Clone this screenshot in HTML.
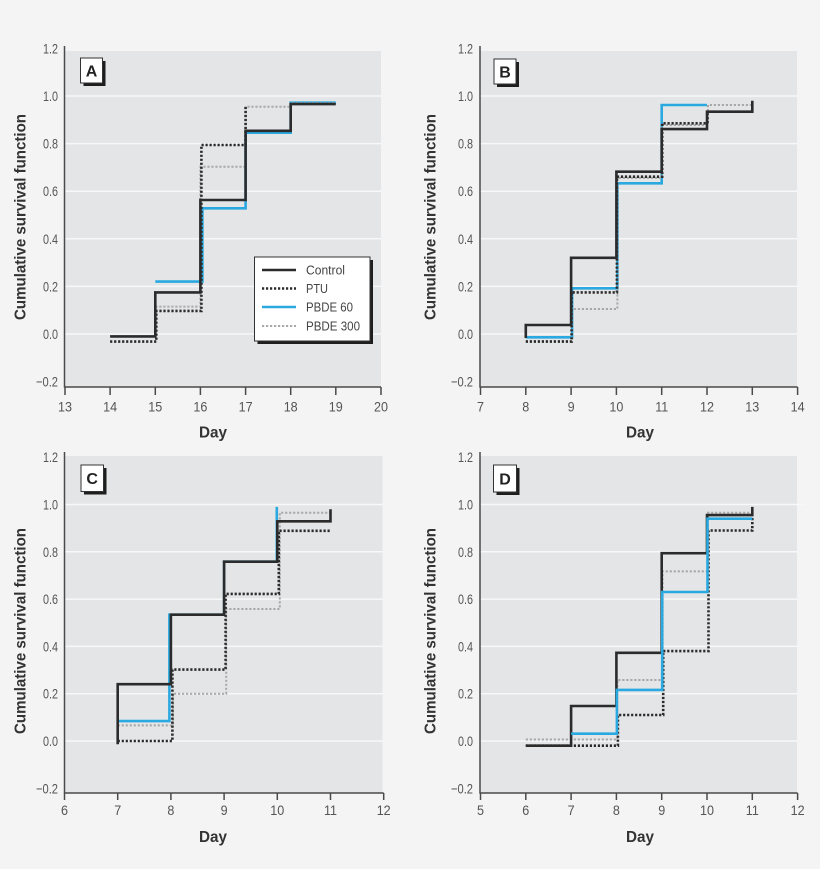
<!DOCTYPE html>
<html><head><meta charset="utf-8"><style>
html,body{margin:0;padding:0;background:#f4f4f4;}
svg{display:block;}
text{font-family:"Liberation Sans Narrow","Liberation Sans",sans-serif;}
.tk{font-size:14px;fill:#555;}
.tt{font-size:16px;font-weight:bold;fill:#333;}
.lg{font-size:13px;fill:#444;}
.lt{font-size:16px;font-weight:bold;fill:#222;}
.ctl{fill:none;stroke:#2b2b2b;stroke-width:2.6;}
.ptu{fill:none;stroke:#2b2b2b;stroke-width:2.6;stroke-dasharray:2.2 1.8;}
.blu{fill:none;stroke:#2aa9e0;stroke-width:2.6;}
.gry{fill:none;stroke:#a9a9a9;stroke-width:2;stroke-dasharray:2.2 1.8;}
.grid{stroke:#f8f8f8;stroke-width:1.5;}
.ax{stroke:#4a4a4a;stroke-width:1.5;fill:none;}
</style></head><body>
<svg width="820" height="869" viewBox="0 0 820 869" xmlns="http://www.w3.org/2000/svg">
<rect x="0" y="0" width="820" height="869" fill="#f4f4f4"/>

<!-- ===== Panel A ===== -->
<rect x="64.5" y="51" width="316.5" height="336" fill="#e3e5e7"/>
<g class="grid">
<line x1="64.5" x2="381" y1="96" y2="96"/><line x1="64.5" x2="381" y1="143.6" y2="143.6"/>
<line x1="64.5" x2="381" y1="191.2" y2="191.2"/><line x1="64.5" x2="381" y1="238.8" y2="238.8"/>
<line x1="64.5" x2="381" y1="286.4" y2="286.4"/><line x1="64.5" x2="381" y1="334" y2="334"/>
</g>
<path class="ax" d="M64.5,46 V387 H381"/>
<path class="ax" d="M65,387v8 M110.1,387v8 M155.3,387v8 M200.4,387v8 M245.6,387v8 M290.7,387v8 M335.8,387v8 M381,387v8"/>
<g class="tk" text-anchor="end">
<text x="58" y="53.4" textLength="15" lengthAdjust="spacingAndGlyphs">1.2</text>
<text x="58" y="101" textLength="15" lengthAdjust="spacingAndGlyphs">1.0</text>
<text x="58" y="148.6" textLength="15" lengthAdjust="spacingAndGlyphs">0.8</text>
<text x="58" y="196.2" textLength="15" lengthAdjust="spacingAndGlyphs">0.6</text>
<text x="58" y="243.8" textLength="15" lengthAdjust="spacingAndGlyphs">0.4</text>
<text x="58" y="291.4" textLength="15" lengthAdjust="spacingAndGlyphs">0.2</text>
<text x="58" y="339" textLength="15" lengthAdjust="spacingAndGlyphs">0.0</text>
<text x="58" y="386.6" textLength="22" lengthAdjust="spacingAndGlyphs">−0.2</text>
</g>
<g class="tk" text-anchor="middle">
<text x="65" y="411.7" textLength="14" lengthAdjust="spacingAndGlyphs">13</text>
<text x="110.1" y="411.7" textLength="14" lengthAdjust="spacingAndGlyphs">14</text>
<text x="155.3" y="411.7" textLength="14" lengthAdjust="spacingAndGlyphs">15</text>
<text x="200.4" y="411.7" textLength="14" lengthAdjust="spacingAndGlyphs">16</text>
<text x="245.6" y="411.7" textLength="14" lengthAdjust="spacingAndGlyphs">17</text>
<text x="290.7" y="411.7" textLength="14" lengthAdjust="spacingAndGlyphs">18</text>
<text x="335.8" y="411.7" textLength="14" lengthAdjust="spacingAndGlyphs">19</text>
<text x="381" y="411.7" textLength="14" lengthAdjust="spacingAndGlyphs">20</text>
</g>
<text class="tt" x="213" y="437.5" text-anchor="middle" textLength="28" lengthAdjust="spacingAndGlyphs">Day</text>
<text class="tt" transform="translate(25.5,217) rotate(-90)" text-anchor="middle" textLength="206" lengthAdjust="spacingAndGlyphs">Cumulative survival function</text>
<rect x="83.5" y="61" width="22" height="25" fill="#1e1e1e"/>
<rect x="80.5" y="58" width="22" height="25" fill="#fff" stroke="#333" stroke-width="1"/>
<text class="lt" x="91.5" y="76.5" text-anchor="middle">A</text>

<path class="blu" d="M155.3,281.6 H202.4 V208.3 H245.6 V132.7 H290.7 V102.7 H335.8"/>
<path class="gry" d="M155.3,306.6 H200.4 V166.7 H245.6 V106.7 H290.7 V103.1 H335.8"/>
<path class="ptu" d="M110.1,341.6 H156.3 V310.9 H201.4 V145 H245.6 V106"/>
<path class="ctl" d="M110.1,336.4 H155.3 V292.4 H200.4 V200 H245.6 V130.8 H290.7 V104.1 H335.8"/>

<!-- legend -->
<rect x="257.5" y="260" width="115.5" height="84" fill="#1e1e1e"/>
<rect x="254.5" y="257" width="115.5" height="84" fill="#fff" stroke="#333" stroke-width="1"/>
<line class="ctl" x1="262" x2="296" y1="270" y2="270"/>
<line class="ptu" x1="262" x2="296" y1="288.5" y2="288.5"/>
<line class="blu" x1="262" x2="296" y1="307" y2="307"/>
<line class="gry" x1="262" x2="296" y1="326" y2="326"/>
<text class="lg" x="306" y="274.5" textLength="39" lengthAdjust="spacingAndGlyphs">Control</text>
<text class="lg" x="306" y="293" textLength="22" lengthAdjust="spacingAndGlyphs">PTU</text>
<text class="lg" x="306" y="311.5" textLength="47" lengthAdjust="spacingAndGlyphs">PBDE 60</text>
<text class="lg" x="306" y="330.5" textLength="54" lengthAdjust="spacingAndGlyphs">PBDE 300</text>

<!-- ===== Panel B ===== -->
<rect x="480" y="51" width="317" height="336" fill="#e3e5e7"/>
<g class="grid">
<line x1="480" x2="797" y1="96" y2="96"/><line x1="480" x2="797" y1="143.6" y2="143.6"/>
<line x1="480" x2="797" y1="191.2" y2="191.2"/><line x1="480" x2="797" y1="238.8" y2="238.8"/>
<line x1="480" x2="797" y1="286.4" y2="286.4"/><line x1="480" x2="797" y1="334" y2="334"/>
</g>
<path class="ax" d="M480,46 V387 H797.6"/>
<path class="ax" d="M480.5,387v8 M525.8,387v8 M571.1,387v8 M616.4,387v8 M661.7,387v8 M707,387v8 M752.3,387v8 M797.6,387v8"/>
<g class="tk" text-anchor="end">
<text x="473" y="53.4" textLength="15" lengthAdjust="spacingAndGlyphs">1.2</text>
<text x="473" y="101" textLength="15" lengthAdjust="spacingAndGlyphs">1.0</text>
<text x="473" y="148.6" textLength="15" lengthAdjust="spacingAndGlyphs">0.8</text>
<text x="473" y="196.2" textLength="15" lengthAdjust="spacingAndGlyphs">0.6</text>
<text x="473" y="243.8" textLength="15" lengthAdjust="spacingAndGlyphs">0.4</text>
<text x="473" y="291.4" textLength="15" lengthAdjust="spacingAndGlyphs">0.2</text>
<text x="473" y="339" textLength="15" lengthAdjust="spacingAndGlyphs">0.0</text>
<text x="473" y="386.6" textLength="22" lengthAdjust="spacingAndGlyphs">−0.2</text>
</g>
<g class="tk" text-anchor="middle">
<text x="480.5" y="411.7" textLength="7" lengthAdjust="spacingAndGlyphs">7</text>
<text x="525.8" y="411.7" textLength="7" lengthAdjust="spacingAndGlyphs">8</text>
<text x="571.1" y="411.7" textLength="7" lengthAdjust="spacingAndGlyphs">9</text>
<text x="616.4" y="411.7" textLength="14" lengthAdjust="spacingAndGlyphs">10</text>
<text x="661.7" y="411.7" textLength="13" lengthAdjust="spacingAndGlyphs">11</text>
<text x="707" y="411.7" textLength="14" lengthAdjust="spacingAndGlyphs">12</text>
<text x="752.3" y="411.7" textLength="14" lengthAdjust="spacingAndGlyphs">13</text>
<text x="797.6" y="411.7" textLength="14" lengthAdjust="spacingAndGlyphs">14</text>
</g>
<text class="tt" x="640" y="437.5" text-anchor="middle" textLength="28" lengthAdjust="spacingAndGlyphs">Day</text>
<text class="tt" transform="translate(435.5,217) rotate(-90)" text-anchor="middle" textLength="206" lengthAdjust="spacingAndGlyphs">Cumulative survival function</text>
<rect x="497" y="62" width="22" height="25" fill="#1e1e1e"/>
<rect x="494" y="59" width="22" height="25" fill="#fff" stroke="#333" stroke-width="1"/>
<text class="lt" x="505" y="77.5" text-anchor="middle">B</text>

<path class="blu" d="M525.8,337.3 H572.1 V288.3 H617.4 V183.3 H661.7 V105 H707"/>
<path class="gry" d="M525.8,341 H572.1 V309 H617.4 V178 H661.7 V125 H708 V105 H752.3"/>
<path class="ptu" d="M525.8,341.6 H571.6 V292.4 H616.9 V176.7 H662.2 V123.3 H707.5 V112"/>
<path class="ctl" d="M525.8,338 V325 H571.1 V257.8 H616.4 V171.7 H661.7 V129.1 H707 V111.7 H752.3 V100.8"/>

<!-- ===== Panel C ===== -->
<rect x="64.5" y="456" width="318" height="337" fill="#e3e5e7"/>
<g class="grid">
<line x1="64.5" x2="382.5" y1="504.5" y2="504.5"/><line x1="64.5" x2="382.5" y1="551.8" y2="551.8"/>
<line x1="64.5" x2="382.5" y1="599.1" y2="599.1"/><line x1="64.5" x2="382.5" y1="646.4" y2="646.4"/>
<line x1="64.5" x2="382.5" y1="693.7" y2="693.7"/><line x1="64.5" x2="382.5" y1="741" y2="741"/>
</g>
<path class="ax" d="M64.5,452 V793 H383.7"/>
<path class="ax" d="M64.5,793v7 M117.7,793v7 M170.9,793v7 M224.1,793v7 M277.3,793v7 M330.5,793v7 M383.7,793v7"/>
<g class="tk" text-anchor="end">
<text x="58" y="462.2" textLength="15" lengthAdjust="spacingAndGlyphs">1.2</text>
<text x="58" y="509.5" textLength="15" lengthAdjust="spacingAndGlyphs">1.0</text>
<text x="58" y="556.8" textLength="15" lengthAdjust="spacingAndGlyphs">0.8</text>
<text x="58" y="604.1" textLength="15" lengthAdjust="spacingAndGlyphs">0.6</text>
<text x="58" y="651.4" textLength="15" lengthAdjust="spacingAndGlyphs">0.4</text>
<text x="58" y="698.7" textLength="15" lengthAdjust="spacingAndGlyphs">0.2</text>
<text x="58" y="746" textLength="15" lengthAdjust="spacingAndGlyphs">0.0</text>
<text x="58" y="793.3" textLength="22" lengthAdjust="spacingAndGlyphs">−0.2</text>
</g>
<g class="tk" text-anchor="middle">
<text x="64.5" y="815" textLength="7" lengthAdjust="spacingAndGlyphs">6</text>
<text x="117.7" y="815" textLength="7" lengthAdjust="spacingAndGlyphs">7</text>
<text x="170.9" y="815" textLength="7" lengthAdjust="spacingAndGlyphs">8</text>
<text x="224.1" y="815" textLength="7" lengthAdjust="spacingAndGlyphs">9</text>
<text x="277.3" y="815" textLength="14" lengthAdjust="spacingAndGlyphs">10</text>
<text x="330.5" y="815" textLength="13" lengthAdjust="spacingAndGlyphs">11</text>
<text x="383.7" y="815" textLength="14" lengthAdjust="spacingAndGlyphs">12</text>
</g>
<text class="tt" x="213" y="842" text-anchor="middle" textLength="28" lengthAdjust="spacingAndGlyphs">Day</text>
<text class="tt" transform="translate(25.5,631) rotate(-90)" text-anchor="middle" textLength="206" lengthAdjust="spacingAndGlyphs">Cumulative survival function</text>
<rect x="84" y="468" width="22.5" height="26.5" fill="#1e1e1e"/>
<rect x="81" y="465" width="22.5" height="26.5" fill="#fff" stroke="#333" stroke-width="1"/>
<text class="lt" x="92.2" y="484" text-anchor="middle">C</text>

<path class="blu" d="M117.7,721.1 H169.4 V614.7 H224.1 V561.7 H276.8 V506.9"/>
<path class="gry" d="M117.7,725.4 H173 V693.7 H226.2 V609 H279.8 V512.8 H330.5"/>
<path class="ptu" d="M117.7,741 H172.4 V669.6 H225.6 V593.9 H278.8 V530.8 H330.5"/>
<path class="ctl" d="M117.7,744.3 V684.2 H170.9 V614.7 H224.1 V561.7 H277.3 V521.3 H330.5 V509.2"/>

<!-- ===== Panel D ===== -->
<rect x="480" y="456" width="317" height="337" fill="#e3e5e7"/>
<g class="grid">
<line x1="480" x2="806" y1="504.5" y2="504.5"/><line x1="480" x2="797" y1="551.8" y2="551.8"/>
<line x1="480" x2="797" y1="599.1" y2="599.1"/><line x1="480" x2="797" y1="646.4" y2="646.4"/>
<line x1="480" x2="797" y1="693.7" y2="693.7"/><line x1="480" x2="797" y1="741" y2="741"/>
</g>
<path class="ax" d="M480,452 V793 H797.6"/>
<path class="ax" d="M480.5,793v7 M525.8,793v7 M571.1,793v7 M616.4,793v7 M661.7,793v7 M707,793v7 M752.3,793v7 M797.6,793v7"/>
<g class="tk" text-anchor="end">
<text x="473" y="462.2" textLength="15" lengthAdjust="spacingAndGlyphs">1.2</text>
<text x="473" y="509.5" textLength="15" lengthAdjust="spacingAndGlyphs">1.0</text>
<text x="473" y="556.8" textLength="15" lengthAdjust="spacingAndGlyphs">0.8</text>
<text x="473" y="604.1" textLength="15" lengthAdjust="spacingAndGlyphs">0.6</text>
<text x="473" y="651.4" textLength="15" lengthAdjust="spacingAndGlyphs">0.4</text>
<text x="473" y="698.7" textLength="15" lengthAdjust="spacingAndGlyphs">0.2</text>
<text x="473" y="746" textLength="15" lengthAdjust="spacingAndGlyphs">0.0</text>
<text x="473" y="793.3" textLength="22" lengthAdjust="spacingAndGlyphs">−0.2</text>
</g>
<g class="tk" text-anchor="middle">
<text x="480.5" y="815" textLength="7" lengthAdjust="spacingAndGlyphs">5</text>
<text x="525.8" y="815" textLength="7" lengthAdjust="spacingAndGlyphs">6</text>
<text x="571.1" y="815" textLength="7" lengthAdjust="spacingAndGlyphs">7</text>
<text x="616.4" y="815" textLength="7" lengthAdjust="spacingAndGlyphs">8</text>
<text x="661.7" y="815" textLength="7" lengthAdjust="spacingAndGlyphs">9</text>
<text x="707" y="815" textLength="14" lengthAdjust="spacingAndGlyphs">10</text>
<text x="752.3" y="815" textLength="13" lengthAdjust="spacingAndGlyphs">11</text>
<text x="797.6" y="815" textLength="14" lengthAdjust="spacingAndGlyphs">12</text>
</g>
<text class="tt" x="640" y="842" text-anchor="middle" textLength="28" lengthAdjust="spacingAndGlyphs">Day</text>
<text class="tt" transform="translate(435.5,631) rotate(-90)" text-anchor="middle" textLength="206" lengthAdjust="spacingAndGlyphs">Cumulative survival function</text>
<rect x="496.5" y="468" width="23" height="27" fill="#1e1e1e"/>
<rect x="493.5" y="465" width="23" height="27" fill="#fff" stroke="#333" stroke-width="1"/>
<text class="lt" x="505" y="484.5" text-anchor="middle">D</text>

<path class="gry" d="M525.8,739.5 H617.4 V680 H662.7 V571.4 H708 V512.8 H752.3"/>
<path class="ptu" d="M525.8,745.7 H617.9 V715 H663.2 V651.1 H708.5 V530.5 H752.3 V518"/>
<path class="ctl" d="M525.8,745.7 H571.1 V706 H616.4 V652.8 H661.7 V553.2 H707 V515.1 H752.3 V506.9"/>
<path class="blu" d="M571.1,733.7 H616.9 V689.9 H662.2 V592 H707.5 V518.7 H752.3"/>
</svg>
</body></html>
